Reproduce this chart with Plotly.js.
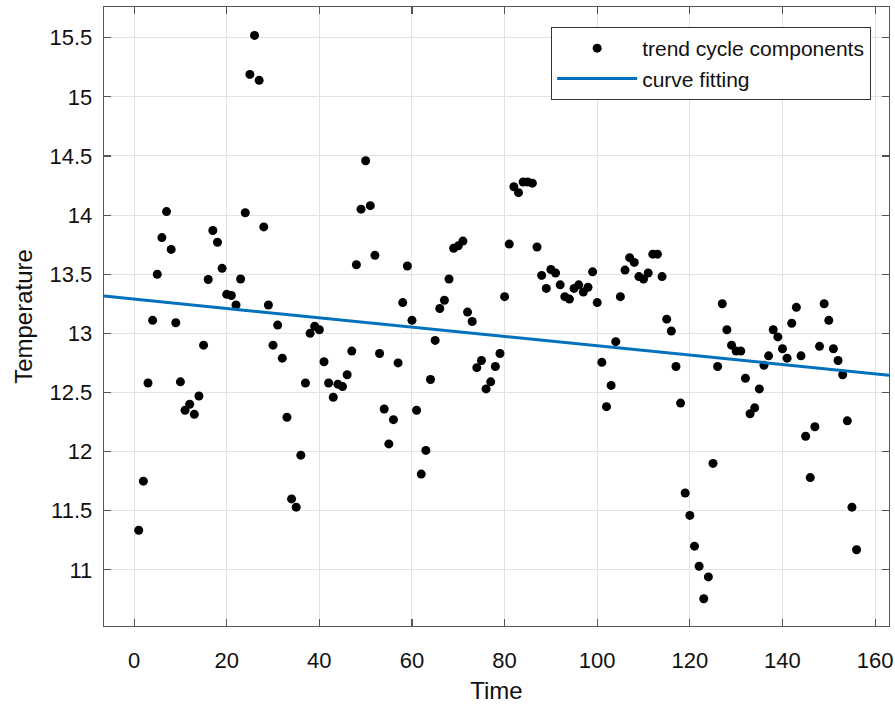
<!DOCTYPE html>
<html>
<head>
<meta charset="utf-8">
<script src="https://cdn.plot.ly/plotly-3.0.1.min.js"></script>
<style>
  html, body { margin: 0; padding: 0; background: #fff; }
  #chart { width: 895px; height: 704px; }
</style>
</head>
<body>
<div id="chart"></div>
<script>
const time = [
  1,2,3,4,5,6,7,8,9,10,11,12,13,14,15,16,17,18,19,20,
  21,22,23,24,25,26,27,28,29,30,31,32,33,34,35,36,37,38,39,40,
  41,42,43,44,45,46,47,48,49,50,51,52,53,54,55,56,57,58,59,60,
  61,62,63,64,65,66,67,68,69,70,71,72,73,74,75,76,77,78,79,80,
  81,82,83,84,85,86,87,88,89,90,91,92,93,94,95,96,97,98,99,100,
  101,102,103,104,105,106,107,108,109,110,111,112,113,114,115,116,117,118,119,120,
  121,122,123,124,125,126,127,128,129,130,131,132,133,134,135,136,137,138,139,140,
  141,142,143,144,145,146,147,148,149,150,151,152,153,154,155,156
];
const temperature = [
  11.335,11.75,12.58,13.11,13.50,13.81,14.03,13.71,13.09,12.59,
  12.35,12.40,12.315,12.47,12.90,13.455,13.87,13.77,13.55,13.33,
  13.32,13.24,13.46,14.02,15.19,15.52,15.14,13.90,13.24,12.90,
  13.07,12.79,12.29,11.60,11.53,11.97,12.58,13.00,13.06,13.03,
  12.76,12.58,12.46,12.57,12.55,12.65,12.85,13.58,14.05,14.46,
  14.08,13.66,12.83,12.36,12.065,12.27,12.75,13.26,13.57,13.11,
  12.35,11.81,12.01,12.61,12.94,13.21,13.28,13.46,13.72,13.74,
  13.78,13.18,13.10,12.71,12.77,12.53,12.59,12.72,12.83,13.31,
  13.755,14.24,14.19,14.28,14.28,14.27,13.73,13.49,13.38,13.54,
  13.51,13.41,13.31,13.29,13.38,13.41,13.35,13.39,13.52,13.26,
  12.755,12.38,12.56,12.93,13.31,13.535,13.64,13.60,13.48,13.46,
  13.51,13.67,13.67,13.48,13.12,13.02,12.72,12.41,11.65,11.46,
  11.20,11.03,10.755,10.94,11.90,12.72,13.25,13.03,12.90,12.85,
  12.85,12.62,12.32,12.37,12.53,12.73,12.81,13.03,12.97,12.87,
  12.79,13.085,13.22,12.81,12.13,11.78,12.21,12.89,13.25,13.11,
  12.87,12.77,12.65,12.26,11.53,11.17
];
const fitTime = [-6.5, 163];
const fitTemperature = [13.315, 12.646];

const xTickVals = [0, 20, 40, 60, 80, 100, 120, 140, 160];
const xTickText = ['0', '20', '40', '60', '80', '100', '120', '140', '160'];
const yTickVals = [11, 11.5, 12, 12.5, 13, 13.5, 14, 14.5, 15, 15.5];
const yTickText = ['11', '11.5', '12', '12.5', '13', '13.5', '14', '14.5', '15', '15.5'];

const FONT = '"Liberation Sans", Arial, Helvetica, sans-serif';

const traces = [
  {
    x: time, y: temperature,
    type: 'scatter', mode: 'markers',
    name: 'trend cycle components',
    marker: { color: '#000000', size: 9 }
  },
  {
    x: fitTime, y: fitTemperature,
    type: 'scatter', mode: 'lines',
    name: 'curve fitting',
    line: { color: '#0072BD', width: 3 }
  }
];

const axisCommon = {
  showline: true, linecolor: '#555555', linewidth: 1.3, mirror: 'ticks',
  ticks: 'inside', ticklen: 7, tickwidth: 1.2, tickcolor: '#555555',
  showgrid: true, gridcolor: '#e2e2e2', gridwidth: 1,
  zeroline: false,
  tickfont: { family: FONT, size: 22, color: '#111111' },
  automargin: false
};

const layout = {
  width: 895, height: 704,
  margin: { l: 104, r: 6, t: 7, b: 78 },
  paper_bgcolor: '#ffffff', plot_bgcolor: '#ffffff',
  font: { family: FONT, color: '#111111' },
  showlegend: true,
  xaxis: Object.assign({}, axisCommon, {
    range: [-6.5, 163],
    tickmode: 'array', tickvals: xTickVals, ticktext: xTickText,
    ticklabelstandoff: 14,
    title: { text: 'Time', font: { family: FONT, size: 24, color: '#111111' }, standoff: 12 }
  }),
  yaxis: Object.assign({}, axisCommon, {
    range: [10.525, 15.76],
    tickmode: 'array', tickvals: yTickVals, ticktext: yTickText,
    ticklabelstandoff: 6,
    title: { text: 'Temperature', font: { family: FONT, size: 24, color: '#111111' }, standoff: 10 }
  }),
  legend: {
    x: 0.977, y: 0.968, xanchor: 'right', yanchor: 'top',
    bgcolor: '#ffffff', bordercolor: '#333333', borderwidth: 1.2,
    font: { family: FONT, size: 21, color: '#111111' },
    itemwidth: 80
  }
};

Plotly.newPlot('chart', traces, layout, { displayModeBar: false, staticPlot: true });
</script>
</body>
</html>
